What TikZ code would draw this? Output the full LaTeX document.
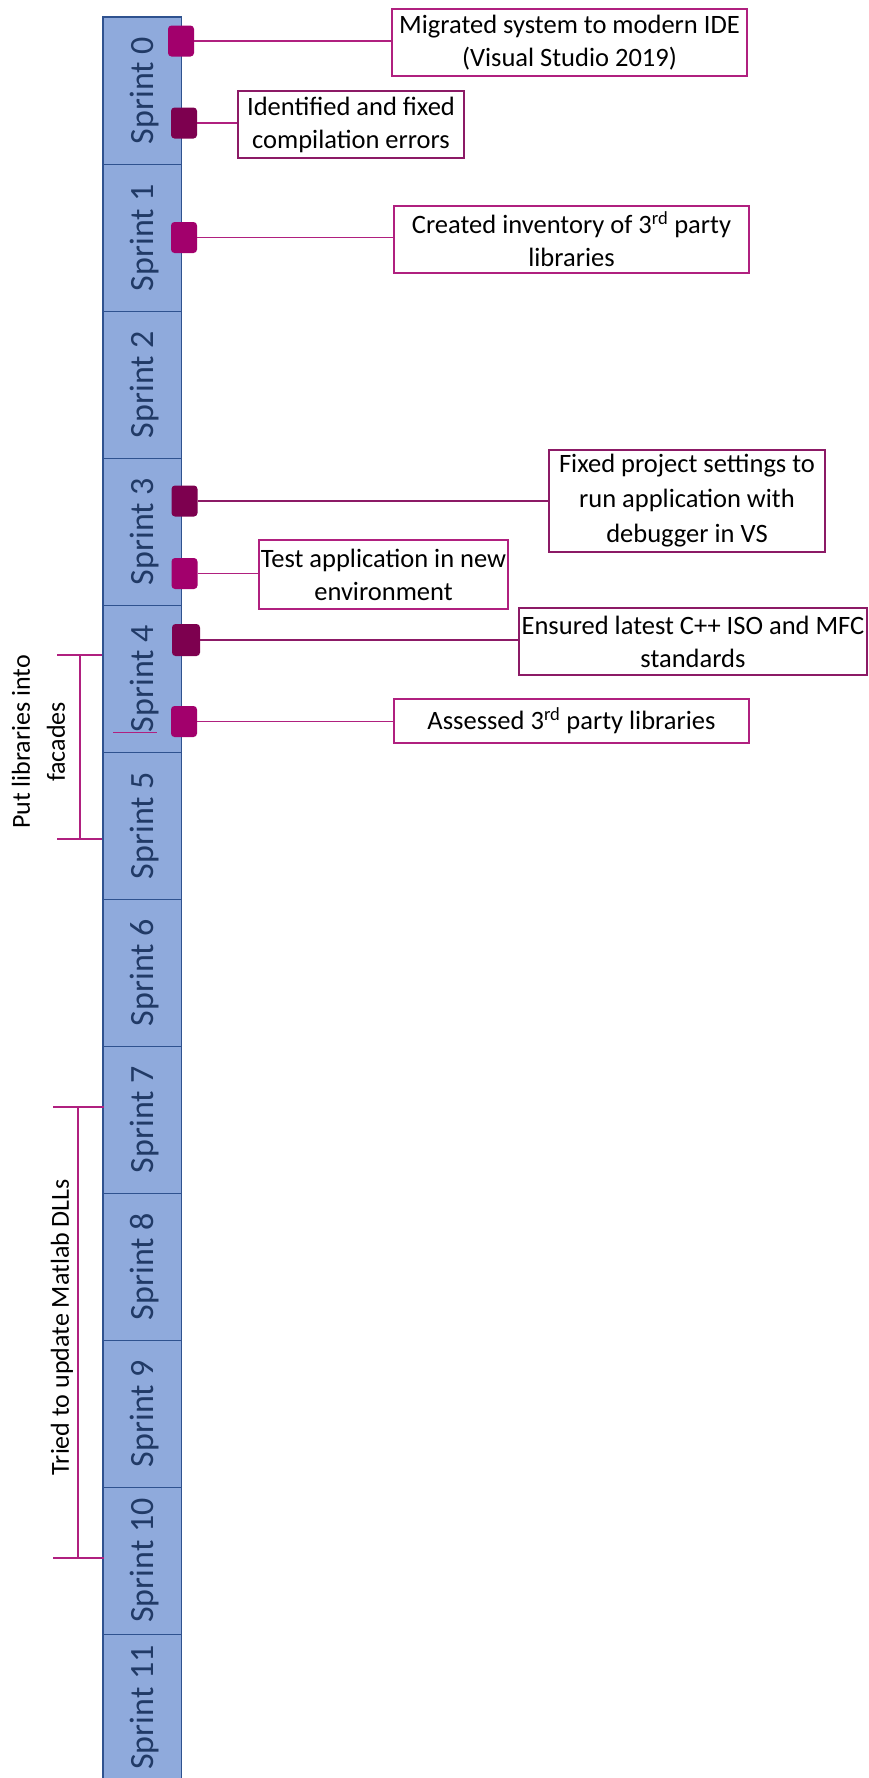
\documentclass[tikz,border=0pt]{standalone}
\usepackage{fontspec}
\setmainfont{Carlito}
\definecolor{barfill}{HTML}{8FAADC}
\definecolor{barline}{HTML}{2F528F}
\definecolor{sprinttext}{HTML}{213A66}
\definecolor{pinkmark}{HTML}{A2006C}
\definecolor{darkmark}{HTML}{7D004F}
\definecolor{pinkline}{HTML}{B0207F}
\definecolor{darkline}{HTML}{8C1A66}
\begin{document}
\begin{tikzpicture}[x=1pt,y=-1pt,
  sprintcell/.style={rectangle, minimum width=78pt, minimum height=147pt,
    inner sep=0pt, draw=barline, line width=0.9pt, fill=barfill},
  sprintlabel/.style={rotate=90, inner sep=0pt, text=sprinttext,
    font=\fontsize{34}{39}\selectfont},
  msq/.style={rectangle, rounded corners=3.5pt, minimum width=26pt,
    minimum height=31pt, inner sep=0pt, fill=#1},
  notebox/.style={rectangle, draw=#1, line width=1.3pt, fill=white,
    align=center, inner sep=0pt, font=\fontsize{26.5}{33}\selectfont},
  conn/.style={draw=#1, line width=1.3pt},
  bracket/.style={draw=pinkline, line width=1.2pt},
  sidenote/.style={rotate=90, align=center, inner sep=0pt,
    font=\fontsize{26}{35}\selectfont}]

\clip (0,0) rectangle (868,1778);

% sprint column
\foreach \k in {0,...,11}{
  \node[sprintcell] (seg\k) at (142,{90.5+147*\k}) {};
  \node[sprintlabel] (lab\k) at ([xshift=2.5pt]seg\k.center) {Sprint \k};
}
\draw[barline, line width=1.8pt] (seg0.north west) rectangle (seg11.south east);

% milestone markers
\node[msq=pinkmark] (m1) at (181,41) {};
\node[msq=darkmark] (m2) at (184,123) {};
\node[msq=pinkmark] (m3) at (184,237.5) {};
\node[msq=darkmark] (m4) at (184.5,501) {};
\node[msq=pinkmark] (m5) at (184.5,573.5) {};
\node[msq=darkmark, minimum width=28pt, minimum height=32pt] (m6) at (186,640) {};
\node[msq=pinkmark] (m7) at (184,721.5) {};

% milestone descriptions
\node[notebox=pinkline, minimum width=355pt, minimum height=67pt] (b1) at (569.5,42.5)
  {Migrated system to modern IDE\\(Visual Studio 2019)};
\node[notebox=darkline, minimum width=226pt, minimum height=67pt] (b2) at (351,124.5)
  {Identified and fixed\\compilation errors};
\node[notebox=pinkline, minimum width=355pt, minimum height=67pt] (b3) at (571.5,239.5)
  {Created inventory of 3\textsuperscript{rd} party\\libraries};
\node[notebox=darkline, minimum width=276pt, minimum height=102pt,
  font=\fontsize{26.5}{35}\selectfont] (b4) at (687,501)
  {Fixed project settings to\\run application with\\debugger in VS};
\node[notebox=pinkline, minimum width=249pt, minimum height=69pt] (b5) at (383.5,574.5)
  {Test application in new\\environment};
\node[notebox=darkline, minimum width=348pt, minimum height=67pt] (b6) at (693,641.5)
  {Ensured latest C++ ISO and MFC\\standards};
\node[notebox=pinkline, minimum width=355pt, minimum height=44pt] (b7) at (571.5,721)
  {Assessed 3\textsuperscript{rd} party libraries};

% connectors
\draw[conn=pinkline] (m1.east) -- (m1.east -| b1.west);
\draw[conn=pinkline] (m2.east) -- (m2.east -| b2.west);
\draw[conn=pinkline] (m3.east) -- (m3.east -| b3.west);
\draw[conn=darkline] (m4.east) -- (m4.east -| b4.west);
\draw[conn=pinkline] (m5.east) -- (m5.east -| b5.west);
\draw[conn=darkline] (m6.east) -- (m6.east -| b6.west);
\draw[conn=pinkline] (m7.east) -- (m7.east -| b7.west);

% short rule inside Sprint 4
\coordinate (r1) at (113,732);
\coordinate (r2) at (157,732);
\draw[bracket, line width=0.9pt] (r1) -- (r2);

% span brackets
\coordinate (f1) at (80,655);
\coordinate (f2) at (80,839);
\draw[bracket] (f1) -- (f2);
\draw[bracket] ([xshift=-23pt]f1) -- ([xshift=22pt]f1);
\draw[bracket] ([xshift=-23pt]f2) -- ([xshift=22pt]f2);
\node[sidenote] (t1) at (38.5,742) {Put libraries into\\facades};

\coordinate (d1) at (78,1107);
\coordinate (d2) at (78,1558);
\draw[bracket] (d1) -- (d2);
\draw[bracket] ([xshift=-25pt]d1) -- ([xshift=26pt]d1);
\draw[bracket] ([xshift=-25pt]d2) -- ([xshift=26pt]d2);
\node[sidenote] (t2) at (62,1327) {Tried to update Matlab DLLs};

\end{tikzpicture}
\end{document}
